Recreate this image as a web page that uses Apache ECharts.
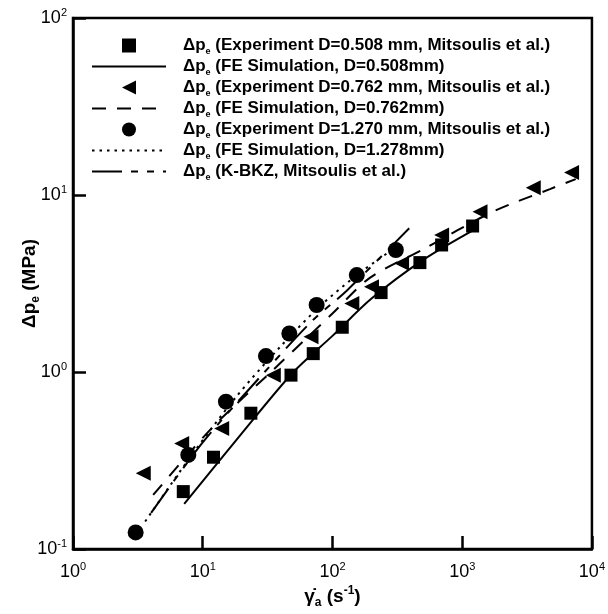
<!DOCTYPE html>
<html>
<head>
<meta charset="utf-8">
<script src="https://cdn.jsdelivr.net/npm/echarts@6/dist/echarts.min.js"></script>
<style>
  html, body { margin: 0; padding: 0; background: #fff; }
  #chart { width: 608px; height: 614px; }
</style>
</head>
<body>
<div id="chart"></div>
<script>
// experiment points
const sqX = [7.08, 12.1, 23.5, 47.9, 71.1, 119, 237, 472, 694, 1203];
const sqY = [0.211, 0.33, 0.585, 0.96, 1.27, 1.79, 2.81, 4.15, 5.22, 6.68];
const triX = [3.48, 6.88, 14.0, 35.0, 68.3, 141, 200, 341, 694, 1371, 3530, 6970];
const triY = [0.268, 0.395, 0.48, 0.96, 1.58, 2.44, 3.03, 4.11, 5.94, 8.05, 11.0, 13.4];
const cirX = [3.04, 7.74, 15.1, 30.7, 46.5, 75.5, 154, 308];
const cirY = [0.124, 0.34, 0.68, 1.23, 1.65, 2.39, 3.53, 4.89];

// simulation curves
const fe508X = [7.2, 20, 50, 100, 200, 500, 1300];
const fe508Y = [0.18, 0.45, 1.0, 1.6, 2.6, 4.3, 6.5];
const fe762X = [4.15, 12, 35, 100, 194, 500, 1726, 4745, 7500];
const fe762Y = [0.202, 0.49, 1.03, 2.14, 3.40, 4.93, 8.05, 10.8, 12.3];
const fe1278X = [3.6, 8, 18, 40, 80, 160, 300];
const fe1278Y = [0.143, 0.33, 0.72, 1.4, 2.35, 3.6, 5.0];
const kbkzX = [4.0, 10, 30, 70, 130, 400];
const kbkzY = [0.16, 0.40, 1.0, 1.95, 2.9, 6.6];

const names = [
  'Δpe (Experiment D=0.508 mm, Mitsoulis et al.)',
  'Δpe (FE Simulation, D=0.508mm)',
  'Δpe (Experiment D=0.762 mm, Mitsoulis et al.)',
  'Δpe (FE Simulation, D=0.762mm)',
  'Δpe (Experiment D=1.270 mm, Mitsoulis et al.)',
  'Δpe (FE Simulation, D=1.278mm)',
  'Δpe (K-BKZ, Mitsoulis et al.)'
];

const zip = (xs, ys) => xs.map((x, i) => [x, ys[i]]);
const leftTri = 'path://M0,5 L10,0 L10,10 Z';
const square = 'path://M0,0 L10,0 L10,10 L0,10 Z';

function powLabel(v) {
  const e = Math.round(Math.log10(v));
  return '{b|10}{sup|' + e + '}';
}
const tickRich = {
  b: { fontSize: 18, fontFamily: 'Liberation Sans', color: '#000', lineHeight: 22 },
  sup: { fontSize: 11, fontFamily: 'Liberation Sans', color: '#000', verticalAlign: 'top', lineHeight: 12 }
};

function lineSeries(i, xs, ys, type) {
  return {
    name: names[i], type: 'line', data: zip(xs, ys), symbol: 'none', smooth: 0.3,
    itemStyle: { color: '#000', opacity: 0 },
    lineStyle: { color: '#000', width: 2, type: type, opacity: 1 }, z: 2
  };
}
function dotSeries(i, xs, ys, symbol, size) {
  return {
    name: names[i], type: 'scatter', data: zip(xs, ys), symbol: symbol, symbolSize: size,
    itemStyle: { color: '#000', opacity: 1 }, z: 3
  };
}

const chart = echarts.init(document.getElementById('chart'));
chart.setOption({
  animation: false,
  backgroundColor: '#fff',
  grid: { left: 73, right: 16, top: 18, bottom: 65, show: true, borderColor: '#000', borderWidth: 2.5 },
  legend: {
    orient: 'vertical', left: 91, top: 35, padding: 0, itemWidth: 74, itemHeight: 14, itemGap: 0,
    data: names,
    formatter: n => 'Δp{s|e}{t|' + n.slice(3) + '}',
    textStyle: {
      padding: [0, 0, 0, 12],
      rich: {
        s: { fontSize: 9, fontWeight: 'bold', fontFamily: 'Liberation Sans', color: '#000', verticalAlign: 'bottom', lineHeight: 9 },
        t: { fontSize: 17, fontWeight: 'bold', fontFamily: 'Liberation Sans', color: '#000', lineHeight: 21 }
      },
      fontSize: 17, fontWeight: 'bold', fontFamily: 'Liberation Sans', color: '#000', lineHeight: 21
    }
  },
  xAxis: {
    type: 'log', logBase: 10, min: 1, max: 10000,
    name: '{g|γ̇}{s|a}{g| (s}{p|-1}{g|)}', nameLocation: 'middle', nameGap: 36, nameMoveOverlap: false,
    nameTextStyle: {
      rich: {
        g: { fontSize: 19, fontWeight: 'bold', fontFamily: 'Liberation Sans', color: '#000', lineHeight: 24 },
        s: { fontSize: 12, fontWeight: 'bold', fontFamily: 'Liberation Sans', color: '#000', verticalAlign: 'bottom', lineHeight: 12 },
        p: { fontSize: 12, fontWeight: 'bold', fontFamily: 'Liberation Sans', color: '#000', verticalAlign: 'top', lineHeight: 12 }
      }
    },
    axisLine: { lineStyle: { color: '#000', width: 2.5 } },
    axisTick: { inside: true, length: 13, lineStyle: { color: '#000', width: 2.5 } },
    minorTick: { show: false },
    splitLine: { show: false },
    axisLabel: { margin: 12, formatter: powLabel, rich: tickRich }
  },
  yAxis: {
    type: 'log', logBase: 10, min: 0.1, max: 100,
    name: '{g|Δp}{s|e}{g| (MPa)}', nameLocation: 'middle', nameGap: 31, nameRotate: 90, nameMoveOverlap: false,
    nameTextStyle: {
      rich: {
        g: { fontSize: 19, fontWeight: 'bold', fontFamily: 'Liberation Sans', color: '#000', lineHeight: 24 },
        s: { fontSize: 12, fontWeight: 'bold', fontFamily: 'Liberation Sans', color: '#000', verticalAlign: 'bottom', lineHeight: 12 }
      }
    },
    axisLine: { lineStyle: { color: '#000', width: 2.5 } },
    axisTick: { inside: true, length: 13, lineStyle: { color: '#000', width: 2.5 } },
    splitLine: { show: false },
    axisLabel: { margin: 6, formatter: powLabel, rich: tickRich }
  },
  series: [
    dotSeries(0, sqX, sqY, square, 13),
    lineSeries(1, fe508X, fe508Y, 'solid'),
    dotSeries(2, triX, triY, leftTri, 15),
    lineSeries(3, fe762X, fe762Y, [14, 11]),
    dotSeries(4, cirX, cirY, 'circle', 16),
    lineSeries(5, fe1278X, fe1278Y, [2.5, 5]),
    lineSeries(6, kbkzX, kbkzY, [30, 9, 7, 9, 7, 9])
  ]
});
</script>
</body>
</html>
